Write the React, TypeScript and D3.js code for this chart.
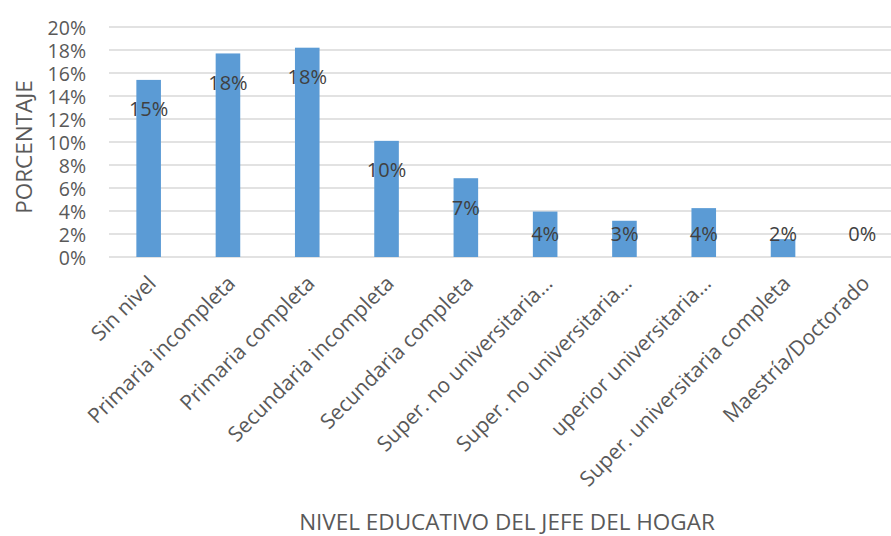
import * as d3 from 'd3';

const categories = [
  'Sin nivel',
  'Primaria incompleta',
  'Primaria completa',
  'Secundaria incompleta',
  'Secundaria completa',
  'Super. no universitaria…',
  'Super. no universitaria…',
  'uperior universitaria…',
  'Super. universitaria completa',
  'Maestría/Doctorado',
];
const values = [15.4, 17.7, 18.2, 10.1, 6.85, 3.95, 3.15, 4.25, 1.55, 0];
const yTicks = [0, 2, 4, 6, 8, 10, 12, 14, 16, 18, 20];

const W = 891;
const H = 536;
const FONT = '"Open Sans", sans-serif';

const App = () => {
  const margin = { top: 27, left: 109, bottom: 279, right: -11 };
  const x = d3.scaleBand<number>()
    .domain(d3.range(categories.length))
    .range([margin.left, W - margin.right])
    .paddingInner(0.69)
    .paddingOuter(0.345);
  const y = d3.scaleLinear().domain([0, 20]).range([H - margin.bottom, margin.top]);
  const y0 = y(0);

  return (
    <svg width={W} height={H} style={{ position: 'absolute', left: 0, top: 0, background: '#fff' }}
      fontFamily={FONT}>
      {yTicks.map(t => (
        <g key={t}>
          <line x1={margin.left} x2={W} y1={y(t)} y2={y(t)} stroke="#d9d9d9" strokeWidth={1.5} />
          <text x={86} y={y(t)} textAnchor="end" dominantBaseline="central" fontSize={19.5} fill="#595959">
            {t}%
          </text>
        </g>
      ))}
      {values.map((v, i) => (
        <rect key={i} x={x(i)} y={y(v)} width={x.bandwidth()} height={y0 - y(v)} fill="#5b9bd5" />
      ))}
      {values.map((v, i) => {
        const cx = (x(i) as number) + x.bandwidth() / 2;
        const ly = Math.min(y(v) + 29, y0 - 24);
        return (
          <text key={i} x={cx} y={ly} textAnchor="middle" dominantBaseline="central" fontSize={20} fill="#404040">
            {Math.round(v)}%
          </text>
        );
      })}
      {categories.map((c, i) => {
        const cx = (x(i) as number) + x.bandwidth() / 2 + 3;
        return (
          <text key={i} transform={`translate(${cx},${y0 + 22}) rotate(-45)`} textAnchor="end"
            dominantBaseline="central" fontSize={21} fill="#595959">
            {c}
          </text>
        );
      })}
      <text x={507} y={521} textAnchor="middle" dominantBaseline="central" fontSize={22.5} fill="#595959">
        NIVEL EDUCATIVO DEL JEFE DEL HOGAR
      </text>
      <text transform={`translate(23,${(y(20) + y0) / 2 + 5}) rotate(-90)`} textAnchor="middle"
        dominantBaseline="central" fontSize={22.5} fill="#595959">
        PORCENTAJE
      </text>
    </svg>
  );
};

export default App;
